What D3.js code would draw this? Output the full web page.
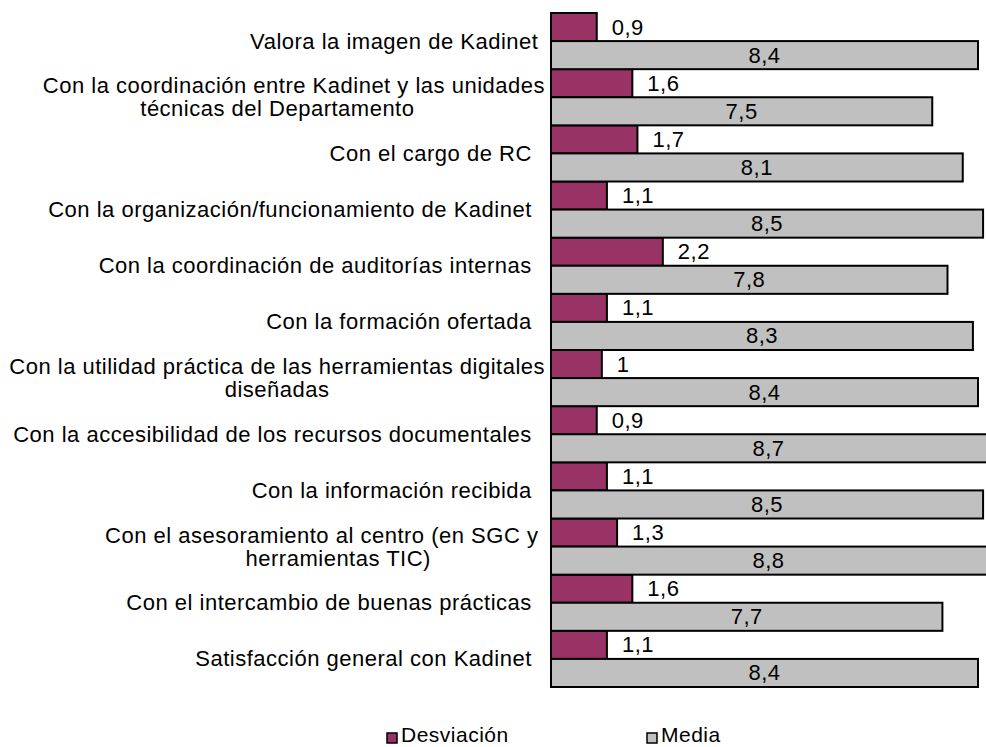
<!DOCTYPE html>
<html>
<head>
<meta charset="utf-8">
<script src="https://cdn.jsdelivr.net/npm/d3@7"></script>
<style>
  body { margin: 0; background: #fff; }
  svg { display: block; }
  text { font-family: "Liberation Sans", Arial, sans-serif; font-size: 22px; letter-spacing: 0.5px; fill: #000; white-space: pre; }
</style>
</head>
<body>
<svg id="chart" width="986" height="747"></svg>
<script>
// category labels, one array of lines per category (spaces as in the source sheet)
const categories = [
  ["Valora la imagen de Kadinet "],
  ["Con la coordinación entre Kadinet y las unidades", "técnicas del Departamento     "],
  ["Con el cargo de RC  "],
  ["Con la organización/funcionamiento de Kadinet  "],
  ["Con la coordinación de auditorías internas  "],
  ["Con la formación ofertada  "],
  ["Con la utilidad práctica de las herramientas digitales", "diseñadas"],
  ["Con la accesibilidad de los recursos documentales  "],
  ["Con la información recibida  "],
  ["Con el asesoramiento al centro (en SGC y ", "    herramientas TIC)"],
  ["Con el intercambio de buenas prácticas  "],
  ["Satisfacción general con Kadinet  "]
];
const desviacion = [0.9, 1.6, 1.7, 1.1, 2.2, 1.1, 1.0, 0.9, 1.1, 1.3, 1.6, 1.1];
const media      = [8.4, 7.5, 8.1, 8.5, 7.8, 8.3, 8.4, 8.7, 8.5, 8.8, 7.7, 8.4];
const seriesNames = ["Desviación", "Media"];
const colors = ["#993366", "#c0c0c0"];

const W = 986, H = 747;
const svg = d3.select("#chart");
const idx = d3.range(categories.length);

const x = d3.scaleLinear().domain([0, 8.4]).range([551, 978]);
const y = d3.scaleBand().domain(idx).range([13, 687]).padding(0);
const ys = d3.scaleBand().domain([0, 1]).range([0, y.bandwidth()]).padding(0);
const fmt = v => String(v).replace(".", ",");

const series = [desviacion, media];

// bars
series.forEach((vals, s) => {
  svg.append("g").selectAll("rect").data(idx).join("rect")
    .attr("x", x(0))
    .attr("y", i => y(i) + ys(s))
    .attr("width", i => x(vals[i]) - x(0))
    .attr("height", ys.bandwidth())
    .attr("fill", colors[s])
    .attr("stroke", "#000")
    .attr("stroke-width", 2);
});

// value labels
svg.append("g").selectAll("text").data(idx).join("text")
  .attr("x", i => x(desviacion[i]) + 15)
  .attr("y", i => y(i) + ys(0) + ys.bandwidth() / 2 + 7.5)
  .text(i => fmt(desviacion[i]));

svg.append("g").selectAll("text").data(idx).join("text")
  .attr("text-anchor", "middle")
  .attr("x", i => (x(0) + Math.min(x(media[i]), W)) / 2)
  .attr("y", i => y(i) + ys(1) + ys.bandwidth() / 2 + 7.5)
  .text(i => fmt(media[i]));

// category labels: block right-aligned, lines centred inside the block
const labelRight = 545, lineH = 23;
const lab = svg.append("g");
idx.forEach(i => {
  const lines = categories[i];
  const g = lab.append("g");
  const ts = lines.map(l => g.append("text").text(l));
  const widths = ts.map(t => t.node().getComputedTextLength());
  const bw = d3.max(widths);
  const cx = labelRight - bw / 2;
  const cy = y(i) + y.bandwidth() / 2;
  ts.forEach((t, k) => {
    t.attr("text-anchor", "middle")
      .attr("x", cx)
      .attr("y", cy + (k - (lines.length - 1) / 2) * lineH + 7.5);
  });
});

// legend
const legX = [387, 647];
const leg = svg.append("g");
seriesNames.forEach((n, s) => {
  leg.append("rect").attr("x", legX[s]).attr("y", 733).attr("width", 10).attr("height", 10)
    .attr("fill", colors[s]).attr("stroke", "#000").attr("stroke-width", 1.5);
  leg.append("text").attr("x", legX[s] + 14).attr("y", 742).style("font-size", "21px").text(n);
});
</script>
</body>
</html>
